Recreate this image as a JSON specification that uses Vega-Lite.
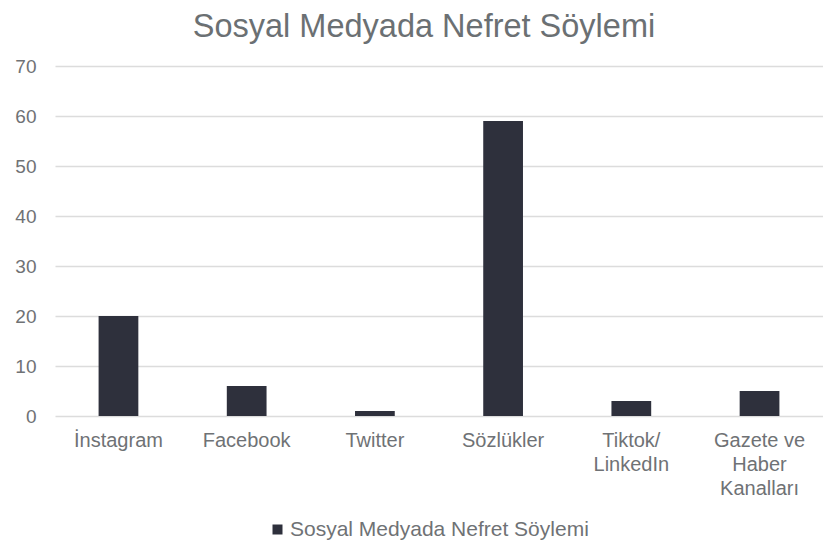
{
  "$schema": "https://vega.github.io/schema/vega-lite/v6.json",
  "width": 768,
  "height": 350,
  "autosize": {"type": "none"},
  "padding": {"left": 55, "top": 66, "right": 0, "bottom": 129},
  "background": "white",
  "title": {
    "text": "Sosyal Medyada Nefret Söylemi",
    "anchor": "middle",
    "font": "Liberation Sans",
    "fontSize": 32.5,
    "fontWeight": "normal",
    "color": "#6b7073",
    "offset": 14,
    "dx": -15
  },
  "data": {
    "values": [
      {"platform": "İnstagram", "deger": 20, "seri": "Sosyal Medyada Nefret Söylemi"},
      {"platform": "Facebook", "deger": 6, "seri": "Sosyal Medyada Nefret Söylemi"},
      {"platform": "Twitter", "deger": 1, "seri": "Sosyal Medyada Nefret Söylemi"},
      {"platform": "Sözlükler", "deger": 59, "seri": "Sosyal Medyada Nefret Söylemi"},
      {"platform": "Tiktok/LinkedIn", "deger": 3, "seri": "Sosyal Medyada Nefret Söylemi"},
      {"platform": "Gazete ve Haber Kanalları", "deger": 5, "seri": "Sosyal Medyada Nefret Söylemi"}
    ]
  },
  "mark": {"type": "bar"},
  "encoding": {
    "x": {
      "field": "platform",
      "type": "nominal",
      "sort": null,
      "scale": {"paddingInner": 0.69, "paddingOuter": 0.34},
      "axis": {
        "title": null,
        "labelAngle": 0,
        "ticks": false,
        "domain": false,
        "labelFont": "Liberation Sans",
        "labelFontSize": 20,
        "labelColor": "#6f7275",
        "labelPadding": 14,
        "labelLineHeight": 24,
        "labelLimit": 0,
        "labelExpr": "datum.value == 'Tiktok/LinkedIn' ? ['Tiktok/', 'LinkedIn'] : datum.value == 'Gazete ve Haber Kanalları' ? ['Gazete ve', 'Haber', 'Kanalları'] : datum.value"
      }
    },
    "y": {
      "field": "deger",
      "type": "quantitative",
      "scale": {"domain": [0, 70]},
      "axis": {
        "title": null,
        "values": [0, 10, 20, 30, 40, 50, 60, 70],
        "ticks": false,
        "domain": false,
        "gridColor": "#dcdcdc",
        "gridWidth": 1.5,
        "labelFont": "Liberation Sans",
        "labelFontSize": 19,
        "labelColor": "#6f7275",
        "labelPadding": 19
      }
    },
    "color": {
      "field": "seri",
      "type": "nominal",
      "scale": {"range": ["#2e303c"]},
      "legend": {
        "title": null,
        "orient": "none",
        "legendX": 212,
        "legendY": 453,
        "symbolType": "square",
        "symbolSize": 100,
        "symbolStrokeWidth": 0,
        "labelFont": "Liberation Sans",
        "labelFontSize": 21,
        "labelColor": "#6f7275",
        "labelOffset": 2,
        "labelLimit": 0
      }
    }
  },
  "config": {
    "view": {"stroke": null}
  }
}
